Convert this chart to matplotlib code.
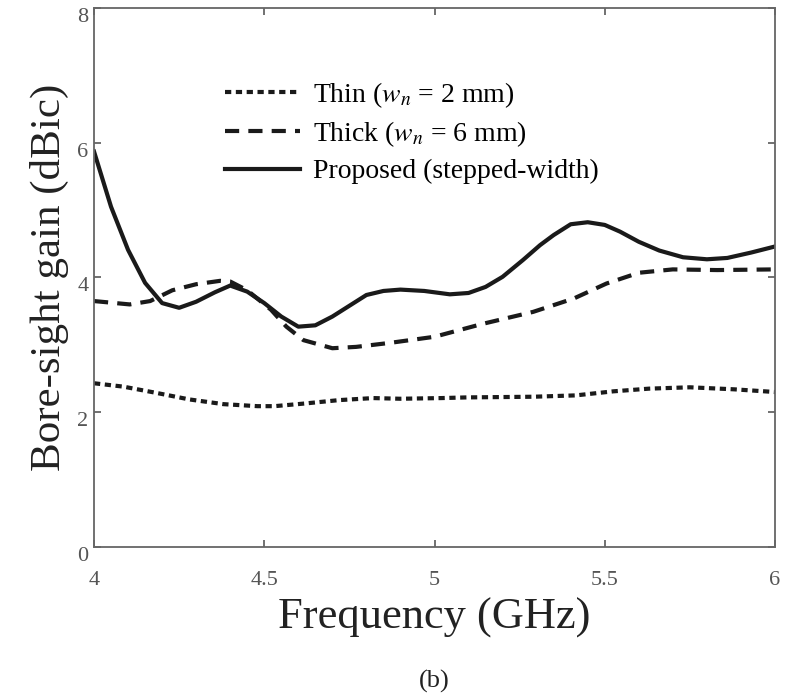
import numpy as np
import matplotlib
matplotlib.use('Agg')
import matplotlib.pyplot as plt

plt.rcParams['font.family'] = ['Liberation Serif', 'DejaVu Serif']
plt.rcParams['mathtext.fontset'] = 'stix'

# 読み取った値 (GHz, dBic)
f_prop = [4.00, 4.05, 4.10, 4.15, 4.20, 4.25, 4.30, 4.355, 4.40, 4.45, 4.50, 4.55,
          4.60, 4.65, 4.70, 4.80, 4.85, 4.90, 4.97, 5.045, 5.10, 5.15, 5.20, 5.26,
          5.31, 5.35, 5.40, 5.45, 5.50, 5.545, 5.60, 5.66, 5.73, 5.80, 5.86, 5.93, 6.00]
g_prop = [5.87, 5.05, 4.41, 3.92, 3.62, 3.55, 3.64, 3.78, 3.88, 3.79, 3.62, 3.42,
          3.27, 3.29, 3.42, 3.74, 3.80, 3.82, 3.80, 3.75, 3.77, 3.86, 4.01, 4.26,
          4.48, 4.63, 4.79, 4.82, 4.78, 4.68, 4.53, 4.40, 4.30, 4.27, 4.29, 4.37, 4.46]

f_thick = [4.00, 4.105, 4.165, 4.23, 4.30, 4.37, 4.40, 4.45, 4.52, 4.565, 4.615,
           4.70, 4.77, 4.87, 5.00, 5.14, 5.29, 5.41, 5.505, 5.60, 5.70, 5.83, 6.00]
g_thick = [3.65, 3.60, 3.65, 3.81, 3.90, 3.95, 3.94, 3.81, 3.52, 3.27, 3.07,
           2.95, 2.97, 3.03, 3.12, 3.31, 3.49, 3.69, 3.91, 4.07, 4.12, 4.11, 4.12]

f_thin = [4.00, 4.086, 4.18, 4.28, 4.38, 4.48, 4.53, 4.62, 4.72, 4.82, 4.90,
          5.02, 5.095, 5.29, 5.415, 5.525, 5.63, 5.75, 5.88, 6.00]
g_thin = [2.43, 2.38, 2.29, 2.19, 2.12, 2.09, 2.09, 2.13, 2.18, 2.21, 2.20,
          2.21, 2.22, 2.23, 2.25, 2.31, 2.35, 2.37, 2.34, 2.30]

labels = ['Thin ($w_n$ = 2 mm)', 'Thick ($w_n$ = 6 mm)', 'Proposed (stepped-width)']
xticks = [4, 4.5, 5, 5.5, 6]
xticklabels = ['4', '4.5', '5', '5.5', '6']
yticks = [0, 2, 4, 6, 8]

fig = plt.figure(figsize=(7.86, 7.0), dpi=100)
ax = fig.add_axes([0.1196, 0.2186, 0.8664, 0.77])

lc = '#1a1a1a'
lw = 3.0
ax.plot(f_thin, g_thin, color=lc, lw=lw, dashes=(1.5, 1.1), label=labels[0])
ax.plot(f_thick, g_thick, color=lc, lw=lw, dashes=(3.4, 2.2), label=labels[1])
ax.plot(f_prop, g_prop, color=lc, lw=lw, label=labels[2])

ax.set_xlim(4, 6)
ax.set_ylim(0, 8)
ax.set_xticks(xticks)
ax.set_xticklabels(xticklabels)
ax.set_yticks(yticks)

gray = '#666666'
for s in ax.spines.values():
    s.set_color(gray)
    s.set_linewidth(1.3)
ax.tick_params(direction='in', length=5, width=1.3, color=gray, labelcolor='#555555',
               top=True, right=True, labelsize=16)
ax.tick_params(axis='x', pad=17)
ax.tick_params(axis='y', pad=4)
for t in ax.get_yticklabels():
    t.set_va('top')

ax.set_xlabel('Frequency (GHz)', fontsize=32, color='#222222', labelpad=6)
ax.set_ylabel('Bore-sight gain (dBic)', fontsize=31, color='#222222', labelpad=6)

ax.legend(loc='upper left', bbox_to_anchor=(0.155, 0.913), frameon=False, fontsize=20,
          handlelength=2.7, handletextpad=0.5, labelspacing=0.35)

fig.text(0.552, 0.026, '(b)', ha='center', va='center', fontsize=19, color='#222222')

plt.savefig('out.png', dpi=100)
